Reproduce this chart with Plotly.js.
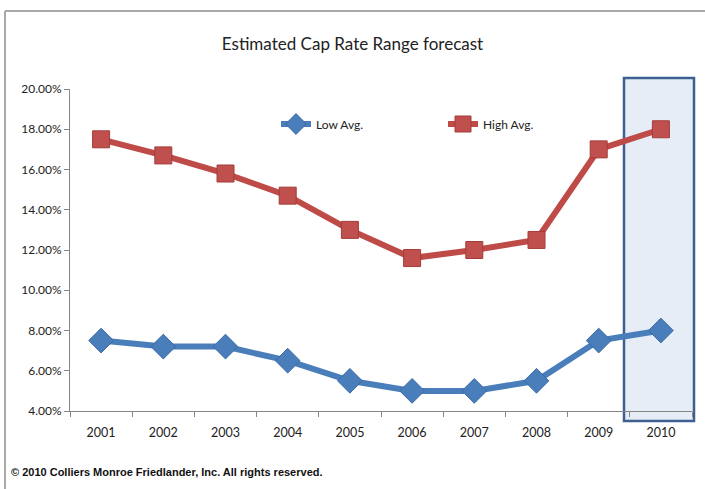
<!DOCTYPE html>
<html>
<head>
<meta charset="utf-8">
<script src="https://cdn.plot.ly/plotly-3.0.1.min.js"></script>
<style>html,body{margin:0;padding:0;background:#fff;}#chart{width:705px;height:489px;}</style>
</head>
<body>
<div id="chart"></div>
<script>
const years = ['2001','2002','2003','2004','2005','2006','2007','2008','2009','2010'];
const lowAvg = [7.5, 7.2, 7.2, 6.5, 5.5, 5.0, 5.0, 5.5, 7.5, 8.0];
const highAvg = [17.5, 16.7, 15.8, 14.7, 13.0, 11.6, 12.0, 12.5, 17.0, 18.0];
const yTicks = [4, 6, 8, 10, 12, 14, 16, 18, 20];
const yTickText = yTicks.map(v => v.toFixed(2) + '%');

const L = 70, R = 13, T = 89, B = 78, W = 705, H = 489;
const pw = W - L - R, ph = H - T - B;
const px = x => (x - L) / pw;
const py = y => (H - B - y) / ph;

const traces = [
  {x: years, y: lowAvg, name: 'Low Avg.', type: 'scatter', mode: 'lines+markers',
   line: {color: '#4a7ebb', width: 6},
   marker: {symbol: 'diamond', size: 19, color: '#4a7ebb', line: {color: '#3a6aa6', width: 1}}},
  {x: years, y: highAvg, name: 'High Avg.', type: 'scatter', mode: 'lines+markers',
   line: {color: '#be4b48', width: 6},
   marker: {symbol: 'square', size: 17, color: '#c0504d', line: {color: '#a33c39', width: 1}}}
];

const layout = {
  width: W, height: H,
  margin: {l: L, r: R, t: T, b: B},
  paper_bgcolor: '#fff', plot_bgcolor: 'rgba(0,0,0,0)',
  font: {family: 'Lato, "Open Sans", sans-serif', size: 12, color: '#222'},
  title: {text: 'Estimated Cap Rate Range forecast', x: 0.5, xanchor: 'center', y: 1 - 44/H, yanchor: 'middle',
          font: {family: 'Lato, "Open Sans", sans-serif', size: 17, color: '#222'}},
  showlegend: true,
  legend: {orientation: 'h', x: px(276), y: py(124), xanchor: 'left', yanchor: 'middle',
           bgcolor: 'rgba(0,0,0,0)', font: {size: 12, color: '#222'}, itemwidth: 30, entrywidth: 122},
  xaxis: {type: 'category', range: [-0.5, 9.5], showline: true, linecolor: '#868686', linewidth: 1,
          ticks: 'outside', tickson: 'boundaries', ticklen: 5, tickcolor: '#868686', ticklabelstandoff: 10,
          showgrid: false, zeroline: false, fixedrange: true, tickfont: {size: 12.5}},
  yaxis: {range: [4, 20], tickvals: yTicks, ticktext: yTickText, showline: true, linecolor: '#868686', linewidth: 1,
          ticks: 'outside', ticklen: 5, tickcolor: '#868686', showgrid: false, zeroline: false, fixedrange: true,
          tickfont: {size: 12}},
  shapes: [
    {type: 'rect', xref: 'paper', yref: 'paper', x0: px(624), x1: px(694), y0: py(421), y1: py(78),
     fillcolor: '#e6edf6', line: {color: '#3e6090', width: 2.5}, layer: 'below'},
    {type: 'line', xref: 'paper', yref: 'paper', x0: px(5), x1: px(5), y0: py(11), y1: py(489),
     line: {color: '#a8a8a8', width: 2}},
    {type: 'line', xref: 'paper', yref: 'paper', x0: px(5), x1: px(705), y0: py(11), y1: py(11),
     line: {color: '#a8a8a8', width: 2}}
  ],
  annotations: [
    {text: '<b>© 2010 Colliers Monroe Friedlander, Inc. All rights reserved.</b>', xref: 'paper', yref: 'paper',
     x: px(9), y: py(472), xanchor: 'left', yanchor: 'middle', showarrow: false,
     font: {family: '"Liberation Sans", Arial, sans-serif', size: 11, color: '#111'}}
  ]
};

Plotly.newPlot('chart', traces, layout, {displayModeBar: false, staticPlot: true});
</script>
</body>
</html>
